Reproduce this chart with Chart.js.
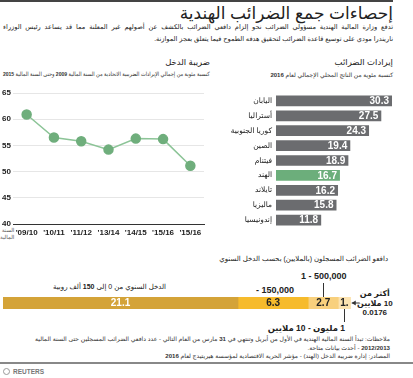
<!DOCTYPE html>
<html>
<head>
<meta charset="utf-8">
<script src="https://cdn.jsdelivr.net/npm/chart.js@4.4.1/dist/chart.umd.min.js"></script>
<style>
  body { margin: 0; background: #fff; font-family: "Liberation Sans", "DejaVu Sans", sans-serif; color: #222; }
  #wrap { position: relative; width: 413px; height: 378px; overflow: hidden; }
  .t { position: absolute; white-space: nowrap; direction: rtl; }
  canvas { position: absolute; }
</style>
</head>
<body>
<div id="wrap">
  <div style="position:absolute;left:0;top:0;width:393px;height:2px;background:#444"></div>
  <div class="t" style="right:20px;top:3px;font-size:17px;">إحصاءات جمع الضرائب الهندية</div>
  <div class="t" style="left:3px;right:20px;top:23px;font-size:6.6px;text-align:justify;text-align-last:justify;">تدفع وزارة المالية الهندية مسؤولي الضرائب نحو إلزام دافعي الضرائب بالكشف عن أصولهم غير المعلنة مما قد يساعد رئيس الوزراء</div>
  <div class="t" style="right:20px;top:35px;font-size:6.6px;">ناريندرا مودي على توسيع قاعدة الضرائب لتحقيق هدفه الطموح فيما يتعلق بعجز الموازنة.</div>

  <div class="t" style="right:203px;top:57px;font-size:8.5px;">ضريبة الدخل</div>
  <div class="t fit" data-w="207" style="right:203px;top:71px;font-size:5.8px;color:#333;transform-origin:right center;">كنسبة مئوية من إجمالي الإيرادات الضريبية الاتحادية من السنة المالية <b>2009</b> وحتى السنة المالية <b>2015</b></div>
  <div class="t" style="left:0;top:227px;font-size:5.5px;line-height:7px;color:#555;">السنة<br>المالية</div>

  <div class="t" style="right:20px;top:57px;font-size:8.5px;">إيرادات الضرائب</div>
  <div class="t" style="right:20px;top:71px;font-size:6px;color:#333;">كنسبة مئوية من الناتج المحلي الإجمالي لعام <b>2016</b></div>

  <div class="t" style="right:25px;top:255px;font-size:7px;">دافعو الضرائب المسجلون (بالملايين) بحسب الدخل السنوي</div>
  <div class="t" style="left:53px;top:283px;font-size:7px;">الدخل السنوي من 0 إلى <b>150</b> ألف روبية</div>
  <div class="t" style="left:256px;top:285px;font-size:9px;font-weight:bold;">150,000 -</div>
  <div class="t" style="left:301px;top:271px;font-size:9px;font-weight:bold;">500,000 - 1</div>
  <div class="t" style="left:357px;top:289px;font-size:8px;line-height:9.5px;font-weight:bold;text-align:center;">أكثر من<br>10 ملايين<br>0.0176</div>
  <div class="t" style="right:68px;top:323px;font-size:8.5px;font-weight:bold;">1 مليون - 10 ملايين</div>

  <div class="t" style="right:23px;top:335px;font-size:6.1px;line-height:8.6px;color:#333;">ملاحظات: تبدأ السنة المالية الهندية في الأول من أبريل وتنتهي في <b>31</b> مارس من العام التالي - عدد دافعي الضرائب المسجلين حتى السنة المالية<br><b>2012/2013</b> - أحدث بيانات متاحة.<br>المصادر: إدارة ضريبة الدخل (الهند) - مؤشر الحرية الاقتصادية لمؤسسة هيريتيدج لعام <b>2016</b></div>
  <div style="position:absolute;left:0;top:362px;width:413px;height:1.5px;background:#888"></div>
  <div style="position:absolute;left:3px;top:368px;width:7px;height:7px;border-radius:50%;border:1.5px solid #999;box-sizing:border-box"></div>
  <div class="t" style="left:13px;top:368px;font-size:6.5px;direction:ltr;color:#777;font-weight:bold;">REUTERS</div>

  <canvas id="lineChart" style="left:0;top:85px;width:212px;height:160px"></canvas>
  <canvas id="barChart" style="left:205px;top:85px;width:208px;height:151px"></canvas>
  <canvas id="stackChart" style="left:0;top:270px;width:413px;height:60px"></canvas>
</div>
<script>
const fiscalYears = ["'09/10", "'10/11", "'11/12", "'13/14", "'14/15", "'15/16", "'15/16"];
const incomeTaxShare = [60.9, 56.5, 55.8, 54.2, 56.3, 56.2, 51.1];
const yTicks = [40, 45, 50, 55, 60, 65];

const countries = ['اليابان', 'أستراليا', 'كوريا الجنوبية', 'الصين', 'فيتنام', 'الهند', 'تايلاند', 'ماليزيا', 'إندونيسيا'];
const taxRevenue = [30.3, 27.5, 24.3, 19.4, 18.9, 16.7, 16.2, 15.8, 11.8];

const incomeBands = ['0-150,000', '150,000-500,000', '500,000-1m', '1m-10m', '>10m'];
const taxpayers = [21.1, 6.3, 2.7, 1.1, 0.0176];
const taxpayerLabels = ['21.1', '6.3', '2.7', '1.', ''];

const FONT = '"Liberation Sans", "DejaVu Sans", sans-serif';

// squeeze long captions into the width they have in the original
document.querySelectorAll('.fit').forEach(el => {
    const w = +el.dataset.w;
    if (el.scrollWidth > w) el.style.transform = 'scaleX(' + (w / el.scrollWidth) + ')';
});

// line chart - income tax share
new Chart(document.getElementById('lineChart'), {
    type: 'line',
    data: {
        labels: fiscalYears,
        datasets: [{
            data: incomeTaxShare,
            borderColor: '#8cc497',
            borderWidth: 1.5,
            pointBackgroundColor: '#6fae7c',
            pointBorderColor: '#6fae7c',
            pointRadius: 4.5,
            tension: 0
        }]
    },
    options: {
        responsive: false,
        animation: false,
        layout: { padding: { top: 8, right: 8, left: 0, bottom: 0 } },
        plugins: { legend: { display: false }, tooltip: { enabled: false } },
        scales: {
            x: {
                offset: true,
                grid: { display: false, drawTicks: false },
                border: { color: '#333', width: 1 },
                ticks: { color: '#222', font: { family: FONT, size: 8, weight: 'bold' }, padding: 4, maxRotation: 0, autoSkip: false },
                afterFit: s => { s.height = 21; }
            },
            y: {
                min: 40, max: 65,
                afterBuildTicks: s => { s.ticks = yTicks.map(v => ({ value: v })); },
                grid: { color: '#e6e6e6', drawTicks: false },
                border: { display: false },
                ticks: { color: '#222', font: { family: FONT, size: 8, weight: 'bold' }, padding: 2 },
                afterFit: s => { s.width = 13; }
            }
        }
    }
});

// value labels inside horizontal bars
const barValues = {
    id: 'barValues',
    afterDatasetsDraw(chart) {
        const ctx = chart.ctx;
        const meta = chart.getDatasetMeta(0);
        ctx.save();
        ctx.font = 'bold 10px ' + FONT;
        ctx.fillStyle = '#fff';
        ctx.textAlign = 'right';
        ctx.textBaseline = 'middle';
        meta.data.forEach((bar, i) => {
            ctx.fillText(taxRevenue[i].toFixed(1), bar.x - 3, bar.y + 0.5);
        });
        ctx.restore();
    }
};

new Chart(document.getElementById('barChart'), {
    type: 'bar',
    data: {
        labels: countries,
        datasets: [{
            data: taxRevenue,
            backgroundColor: countries.map(c => c === 'الهند' ? '#6cae7b' : '#6b6c6f'),
            barPercentage: 0.72,
            categoryPercentage: 1
        }]
    },
    options: {
        indexAxis: 'y',
        responsive: false,
        animation: false,
        layout: { padding: { top: 3.5, right: 16.4, left: 0, bottom: 0 } },
        plugins: { legend: { display: false }, tooltip: { enabled: false } },
        scales: {
            x: { min: 0, max: 31.5, display: false },
            y: {
                grid: { display: false, drawTicks: false },
                border: { display: false },
                ticks: { color: '#222', font: { family: FONT, size: 7.5 }, padding: 4 },
                afterFit: s => { s.width = 71; }
            }
        }
    },
    plugins: [barValues]
});

// stacked bar: labels and leader lines
const stackNotes = {
    id: 'stackNotes',
    afterDatasetsDraw(chart) {
        const ctx = chart.ctx;
        const xs = chart.scales.x;
        const area = chart.chartArea;
        const midY = (area.top + area.bottom) / 2;
        let start = 0;
        const centers = [];
        taxpayers.forEach(v => { centers.push(xs.getPixelForValue(start + v / 2)); start += v; });
        ctx.save();
        ctx.font = 'bold 10px ' + FONT;
        ctx.textAlign = 'center';
        ctx.textBaseline = 'middle';
        taxpayerLabels.forEach((t, i) => {
            ctx.fillStyle = i === 0 ? '#fff' : '#222';
            ctx.fillText(t, centers[i], midY + 0.5);
        });
        ctx.strokeStyle = '#333';
        ctx.lineWidth = 1;
        ctx.beginPath();
        ctx.moveTo(Math.round(centers[2]) + 0.5, area.top - 14);
        ctx.lineTo(Math.round(centers[2]) + 0.5, area.top);
        ctx.moveTo(Math.round(centers[3]) + 0.5, area.bottom);
        ctx.lineTo(Math.round(centers[3]) + 0.5, area.bottom + 13);
        const endX = xs.getPixelForValue(start) + 1;
        ctx.moveTo(endX + 8, midY);
        ctx.lineTo(endX, midY);
        ctx.stroke();
        ctx.beginPath();
        ctx.fillStyle = '#333';
        ctx.moveTo(endX, midY);
        ctx.lineTo(endX + 4, midY - 2.5);
        ctx.lineTo(endX + 4, midY + 2.5);
        ctx.fill();
        ctx.restore();
    }
};

new Chart(document.getElementById('stackChart'), {
    type: 'bar',
    data: {
        labels: ['taxpayers'],
        datasets: incomeBands.map((b, i) => ({
            label: b,
            data: [taxpayers[i]],
            backgroundColor: ['#d4a338', '#f6bb2c', '#f8d07d', '#fce3b0', '#fdf0d4'][i],
            barPercentage: 1,
            categoryPercentage: 1
        }))
    },
    options: {
        indexAxis: 'y',
        responsive: false,
        animation: false,
        layout: { padding: { top: 27, bottom: 21, left: 3, right: 9 } },
        plugins: { legend: { display: false }, tooltip: { enabled: false } },
        scales: {
            x: { stacked: true, min: 0, max: 36, display: false },
            y: { stacked: true, display: false }
        }
    },
    plugins: [stackNotes]
});
</script>
</body>
</html>
